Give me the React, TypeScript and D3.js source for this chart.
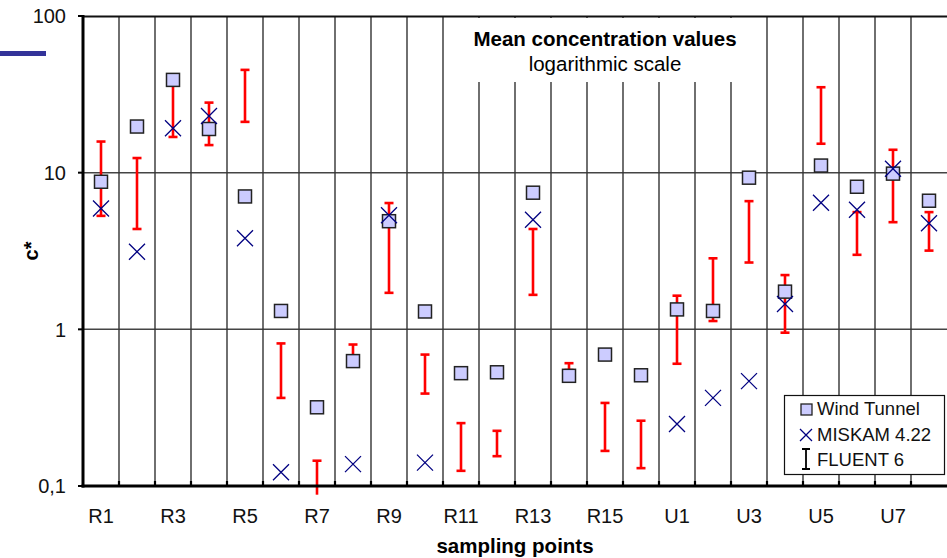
import * as d3 from "d3";
import React, { useRef, useEffect } from "react";

const categories = [
  "R1", "R2", "R3", "R4", "R5", "R6", "R7", "R8", "R9", "R10", "R11", "R12",
  "R13", "R14", "R15", "R16", "U1", "U2", "U3", "U4", "U5", "U6", "U7", "U8",
];
const windTunnel = [
  8.75, 19.7, 39.1, 19.0, 7.05, 1.31, 0.318, 0.627, 4.9, 1.3, 0.525, 0.532,
  7.45, 0.505, 0.69, 0.509, 1.34, 1.31, 9.29, 1.74, 11.1, 8.13, 9.86, 6.62,
];
const miskam = [
  5.9, 3.13, 19.2, 23.0, 3.81, 0.1225, null, 0.138, 5.35, 0.141, null, null,
  5.0, null, null, null, 0.249, 0.365, 0.467, 1.45, 6.42, 5.8, 10.6, 4.76,
];
const fluentHigh = [
  15.8, 12.4, 37, 28.0, 45.3, 0.813, 0.145, 0.8, 6.4, 0.69, 0.252, 0.225,
  4.37, 0.608, 0.339, 0.261, 1.64, 2.84, 6.58, 2.22, 35.1, 5.6, 14.0, 5.6,
];
const fluentLow = [
  5.3, 4.37, 16.9, 15.0, 21.1, 0.365, 0.088, 0.66, 1.71, 0.389, 0.125, 0.155,
  1.66, 0.55, 0.1675, 0.13, 0.603, 1.13, 2.67, 0.952, 15.3, 2.99, 4.83, 3.18,
];
const yTicks = [0.1, 1, 10, 100];
const yTickLabels = ["0,1", "1", "10", "100"];

const W = 947;
const H = 558;
const font = "'Liberation Sans', Arial, sans-serif";

function App() {
  const ref = useRef<SVGSVGElement>(null);

  useEffect(() => {
    const svg = d3.select(ref.current);
    svg.selectAll("*").remove();

    const left = 83, right = 947, top = 16, bottom = 486;
    const x = d3.scaleBand<string>().domain(categories).range([left, right]);
    const y = d3.scaleLog().domain([0.1, 100]).range([bottom, top]);
    const cx = (i: number) => (x(categories[i]) as number) + x.bandwidth() / 2;

    svg.append("rect").attr("width", W).attr("height", H).attr("fill", "#fff");

    // stray blue bar at top left
    svg.append("rect").attr("x", 0).attr("y", 51).attr("width", 46).attr("height", 5)
      .attr("fill", "#333399");

    // horizontal grid
    svg.append("g").selectAll("line").data([1, 10]).enter().append("line")
      .attr("x1", left).attr("x2", right)
      .attr("y1", (d) => y(d)).attr("y2", (d) => y(d))
      .attr("stroke", "#444").attr("stroke-width", 1.5);

    // vertical grid at category boundaries
    svg.append("g").selectAll("line").data(categories.slice(1)).enter().append("line")
      .attr("x1", (d) => x(d) as number).attr("x2", (d) => x(d) as number)
      .attr("y1", top).attr("y2", bottom)
      .attr("stroke", "#333").attr("stroke-width", 1.4);

    // top frame
    svg.append("line").attr("x1", left).attr("x2", right).attr("y1", top + 0.5).attr("y2", top + 0.5)
      .attr("stroke", "#111").attr("stroke-width", 2);

    // title box
    svg.append("rect").attr("x", 460).attr("y", 18).attr("width", 290).attr("height", 64)
      .attr("fill", "#fff");
    svg.append("text").attr("x", 605).attr("y", 46).attr("text-anchor", "middle")
      .attr("font-family", font).attr("font-size", 20.5).attr("font-weight", "bold")
      .text("Mean concentration values");
    svg.append("text").attr("x", 605).attr("y", 71).attr("text-anchor", "middle")
      .attr("font-family", font).attr("font-size", 20.5)
      .text("logarithmic scale");

    // fluent error bars
    const eb = svg.append("g").attr("stroke", "#ff0000").attr("stroke-width", 2.6);
    categories.forEach((c, i) => {
      const px = cx(i);
      eb.append("line").attr("x1", px).attr("x2", px)
        .attr("y1", y(fluentHigh[i])).attr("y2", y(fluentLow[i]));
      [fluentHigh[i], fluentLow[i]].forEach((v) => {
        if (v < 0.1) return;
        eb.append("line").attr("x1", px - 4.5).attr("x2", px + 4.5)
          .attr("y1", y(v)).attr("y2", y(v));
      });
    });

    // wind tunnel squares
    svg.append("g").selectAll("rect").data(windTunnel).enter().append("rect")
      .attr("x", (d, i) => cx(i) - 6.5).attr("y", (d) => y(d) - 6.5)
      .attr("width", 13).attr("height", 13)
      .attr("fill", "#ccccff").attr("stroke", "#222").attr("stroke-width", 1.5);

    // miskam crosses
    const xs = svg.append("g").attr("stroke", "#000080").attr("stroke-width", 1.3);
    miskam.forEach((v, i) => {
      if (v == null) return;
      const px = cx(i), py = y(v);
      xs.append("path").attr("d", `M${px - 8},${py - 8}L${px + 8},${py + 8}M${px - 8},${py + 8}L${px + 8},${py - 8}`);
    });

    // axes
    svg.append("line").attr("x1", left).attr("x2", left).attr("y1", top - 1).attr("y2", bottom + 1.5)
      .attr("stroke", "#000").attr("stroke-width", 3);
    svg.append("line").attr("x1", left - 1.5).attr("x2", right).attr("y1", bottom).attr("y2", bottom)
      .attr("stroke", "#000").attr("stroke-width", 3);
    svg.append("g").selectAll("line").data(yTicks).enter().append("line")
      .attr("x1", left - 5).attr("x2", left).attr("y1", (d) => y(d)).attr("y2", (d) => y(d))
      .attr("stroke", "#000").attr("stroke-width", 2);
    svg.append("g").selectAll("line").data(categories.slice(1)).enter().append("line")
      .attr("x1", (d) => x(d) as number).attr("x2", (d) => x(d) as number)
      .attr("y1", bottom - 5).attr("y2", bottom)
      .attr("stroke", "#000").attr("stroke-width", 2.2);

    svg.append("g").selectAll("text").data(yTicks).enter().append("text")
      .attr("x", 66).attr("y", (d) => y(d)).attr("dy", "0.36em").attr("text-anchor", "end")
      .attr("font-family", font).attr("font-size", 20).attr("fill", "#111")
      .text((d, i) => yTickLabels[i]);

    svg.append("g").selectAll("text").data(categories.filter((c, i) => i % 2 === 0)).enter().append("text")
      .attr("x", (d) => (x(d) as number) + x.bandwidth() / 2).attr("y", 523).attr("text-anchor", "middle")
      .attr("font-family", font).attr("font-size", 20).attr("fill", "#111")
      .text((d) => d);

    svg.append("text").attr("x", (left + right) / 2).attr("y", 553).attr("text-anchor", "middle")
      .attr("font-family", font).attr("font-size", 20.5).attr("font-weight", "bold")
      .text("sampling points");
    svg.append("text").attr("transform", `translate(38,${(top + bottom) / 2})rotate(-90)`)
      .attr("text-anchor", "middle")
      .attr("font-family", font).attr("font-size", 20).attr("font-weight", "bold")
      .text("c*");

    // legend
    const lg = svg.append("g");
    lg.append("rect").attr("x", 784.5).attr("y", 395.5).attr("width", 160).attr("height", 79)
      .attr("fill", "#fff").attr("stroke", "#111").attr("stroke-width", 1.2);
    lg.append("rect").attr("x", 801).attr("y", 404).attr("width", 11).attr("height", 11)
      .attr("fill", "#ccccff").attr("stroke", "#222").attr("stroke-width", 1.3);
    lg.append("path").attr("d", "M800,429L812,441M800,441L812,429")
      .attr("stroke", "#000080").attr("stroke-width", 1.3);
    lg.append("path").attr("d", "M806,449V469M802,449H810M802,469H810")
      .attr("stroke", "#000").attr("stroke-width", 1.8);
    ["Wind Tunnel", "MISKAM 4.22", "FLUENT 6"].forEach((t, i) => {
      lg.append("text").attr("x", 817).attr("y", 415 + i * 25.5)
        .attr("font-family", font).attr("font-size", 18.5).attr("fill", "#111").text(t);
    });
  }, []);

  return (
    <svg ref={ref} width={W} height={H}
      style={{ position: "absolute", left: 0, top: 0, display: "block" }} />
  );
}

export default App;
